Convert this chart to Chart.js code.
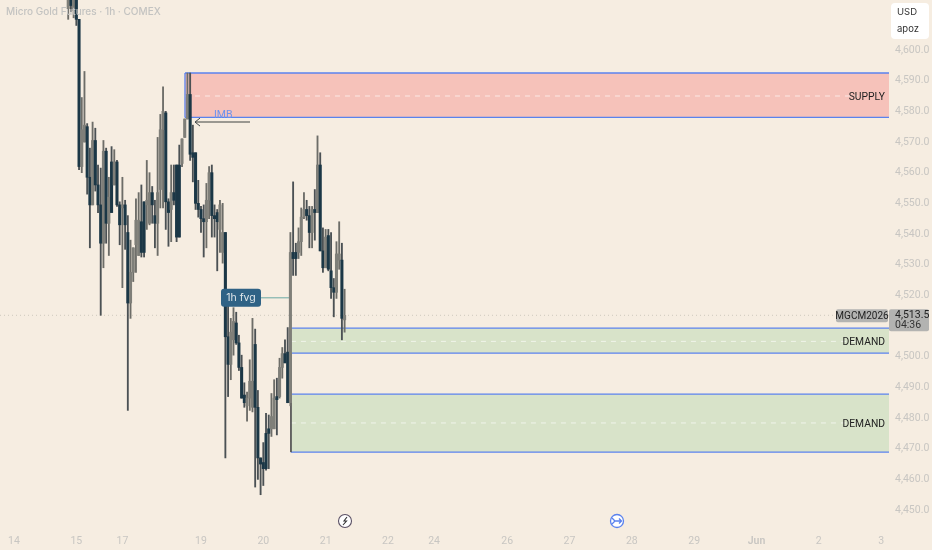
<!DOCTYPE html>
<html><head><meta charset="utf-8">
<style>html,body{margin:0;padding:0;background:#f6ede1;overflow:hidden}canvas{display:block}</style>
<script src="https://cdn.jsdelivr.net/npm/chart.js@4/dist/chart.umd.min.js"></script>
</head><body><canvas id="c" width="932" height="550"></canvas>
<script>
const firstBar = 20;
const highs = [4620,4618,4618,4618,4610,4584.5,4593,4576,4568,4576.5,4574.5,4562.5,4561.5,4570.5,4568,4558.5,4568.5,4567.5,4564,4550.5,4558.5,4551,4546,4538,4535.5,4551.5,4553.5,4556,4550.5,4564,4560,4555.5,4551,4571.5,4579,4588,4580,4551.5,4562.5,4562.5,4562.5,4569,4571,4577.5,4592.5,4592.5,4575.5,4566.5,4557.5,4549,4549.5,4556.5,4562,4562.5,4549.5,4548,4551,4550,4540.5,4517,4512.5,4516,4514.5,4507,4500.5,4491.5,4488.5,4499,4512.5,4509,4489,4467,4472,4481.5,4481,4488,4492.5,4493,4499.5,4503,4505.5,4509.5,4540.5,4557,4537,4542,4548.5,4553.5,4551,4549,4549,4554.5,4572,4566.5,4542,4541.5,4541.5,4540.5,4525.5,4537.5,4544,4537,4522];
const lows = [4610,4612.5,4610.5,4608,4561,4560,4570,4553,4535.5,4549.5,4554,4547,4513.5,4529,4537,4533,4547,4556,4549,4536.5,4522.5,4535,4482.5,4512.5,4524.5,4527.5,4533,4532.5,4532.5,4541.5,4543,4543.5,4535.5,4533,4548.5,4548.5,4541.5,4536,4537.5,4549.5,4537.5,4539,4562,4571.5,4577.5,4564,4557,4548,4545.5,4540.5,4532.5,4535.5,4545,4539,4539,4528,4534,4530.5,4467,4487,4492.5,4500.5,4504,4495.5,4486.5,4483.5,4479,4482.5,4482,4457.5,4460,4455,4458,4463,4463.5,4474,4476.5,4474.5,4486.5,4493,4498,4485,4484,4526.5,4526.5,4532,4533,4545,4544.5,4535.5,4535.5,4538,4547,4534.5,4527.5,4529,4528,4519,4513,4519,4528.5,4505.5,4508];
const opens = [4613.5,4618,4613,4616.5,4610,4562,4570,4575,4558.5,4549.5,4570.5,4556,4549.5,4537,4567,4543.5,4563.5,4556,4563.5,4549.5,4548.5,4549.5,4540.5,4517.5,4527.5,4536.5,4533,4544,4550.5,4549.5,4543.5,4553.5,4546,4543.5,4554.5,4574,4579.5,4550.5,4548,4553.5,4562.5,4562.5,4563,4571.5,4577.5,4585.5,4566.5,4566.5,4550,4548,4545,4544,4551,4560,4546,4547,4541.5,4534,4540.5,4506.5,4497.5,4505.5,4511,4504.5,4496.5,4487.5,4484,4486.5,4483.5,4504,4483.5,4467,4465.5,4475,4476.5,4476.5,4476.5,4487,4487,4496.5,4501,4501.5,4485,4534,4534,4534,4537.5,4545.5,4548,4546,4540.5,4548,4547,4562.5,4534.5,4529,4539.5,4528,4522.5,4521,4531.5,4531.5,4512];
const closes = [4618,4614.5,4616.5,4610,4562,4574,4575.5,4558.5,4549.5,4570.5,4556,4549.5,4537,4567,4543.5,4552,4547,4563.5,4549.5,4543,4549.5,4543,4517.5,4527.5,4535.5,4544.5,4544.5,4534,4534,4551,4553.5,4549.5,4543.5,4553.5,4574,4580,4550.5,4547,4553.5,4551,4539,4539,4571,4577.5,4585.5,4566,4565,4550,4548,4545,4544,4551,4560,4546,4545,4544,4549.5,4540.5,4506.5,4497.5,4508,4511.5,4504.5,4496.5,4486.5,4485,4486.5,4492,4492,4483.5,4467,4465,4463.5,4463.5,4475,4480.5,4486.5,4486,4496.5,4501,4498,4485,4534,4532,4532,4537.5,4545.5,4548,4546,4540.5,4548,4547,4562.5,4534.5,4529,4539,4528.5,4522.5,4521,4533.5,4533.5,4512.5,4513.5];

const priceTicks = [4450,4460,4470,4480,4490,4500,4510,4520,4530,4540,4550,4560,4570,4580,4590,4600];
const timeTickBars = [0,23,40,69,92,115,138,155,182,205,228,251,274,297,320];
const timeTickLabels = ['14','15','17','19','20','21','22','24','26','27','28','29','Jun','2','3'];

const xMin = -5.17, xMax = 322.9, yMin = 4443.5, yMax = 4616.3;
const lastPrice = 4513.5;
const supplyZone = {start: 63.1, top: 4592.5, bottom: 4578, mid: 4585};
const demandZoneA = {start: 102.2, top: 4509.3, bottom: 4501.2, mid: 4505};
const demandZoneB = {start: 102.2, top: 4487.8, bottom: 4468.9, mid: 4478.4};
const imbArrow = {from: 87.1, to: 66.8, price: 4576.5};
const fvgLine = {from: 91, to: 102.2, price: 4519.2};

const DARK='#1b3746', GREY='#7f7f79', WICK_D='#4b5154', WICK_U='#6d6d68', BLUE='#5a82ee';
const up = i => closes[i] >= opens[i];
const barX = i => firstBar + i;

const seg = (x0,x1,y0,y1=y0)=>[{x:x0,y:y0},{x:x1,y:y1}];
function lineDs(data, color, extra={}) {
  return Object.assign({type:'line',data,borderColor:color,borderWidth:1,pointRadius:0,fill:false,order:20,tension:0,clip:true}, extra);
}
function zoneDs(z, fill) {
  return [
    lineDs(seg(z.start,xMax,z.top), BLUE, {fill:'+1',backgroundColor:fill,order:30,borderWidth:1.3}),
    lineDs(seg(z.start,xMax,z.bottom), BLUE, {order:29,borderWidth:1.3}),
    lineDs(seg(z.start,xMax-11.5,z.mid), 'rgba(255,255,255,0.62)', {borderDash:[5,5],order:28})
  ];
}

const annot = {
  id:'annot',
  afterDatasetsDraw(ch){
    const {ctx,scales:{x,y}} = ch;
    const tx=(s,px,py,o={})=>{ctx.font=o.font||'10.3px Roboto';ctx.fillStyle=o.color||'#222';ctx.textAlign=o.align||'left';ctx.textBaseline='middle';ctx.fillText(s,px,py);};
    // zone labels
    tx('SUPPLY',885,y.getPixelForValue(supplyZone.mid)+1,{align:'right'});
    tx('DEMAND',885,y.getPixelForValue(demandZoneA.mid)+1,{align:'right'});
    tx('DEMAND',885,y.getPixelForValue(demandZoneB.mid)+1,{align:'right'});
    // arrow head
    const ax=x.getPixelForValue(imbArrow.to), ay=y.getPixelForValue(imbArrow.price);
    ctx.strokeStyle='#3f4547';ctx.lineWidth=1;ctx.beginPath();ctx.moveTo(ax+5,ay-4);ctx.lineTo(ax,ay);ctx.lineTo(ax+5,ay+4);ctx.stroke();
    tx('IMB',214,y.getPixelForValue(imbArrow.price)-7,{color:'#6d93ee',font:'10.5px Roboto'});
    // fvg label
    const fy=y.getPixelForValue(fvgLine.price);
    ctx.fillStyle='#2f6285';ctx.beginPath();ctx.roundRect(221,fy-9,40,18,3);ctx.fill();
    tx('1h fvg',241,fy+.5,{color:'#dfe6ea',align:'center',font:'10.5px Inter'});
    // title
    tx('Micro Gold Futures · 1h · COMEX',6,12,{color:'#c3c3c1',font:'500 10px Inter'});
    // currency box
    ctx.fillStyle='#ffffff';ctx.beginPath();ctx.roundRect(891,3,38,36,4);ctx.fill();
    tx('USD',897,12,{color:'#333',font:'9.5px Inter'});
    tx('apoz',897,29.5,{color:'#333',font:'9.5px Inter'});
    // price tags
    const py=y.getPixelForValue(lastPrice);
    ctx.fillStyle='#b3b3b1';ctx.beginPath();ctx.roundRect(836,py-6,52,13,2);ctx.fill();
    tx('MGCM2026',862,py+.7,{align:'center',color:'#222',font:'10px Roboto'});
    ctx.fillStyle='#b3b3b1';ctx.beginPath();ctx.roundRect(889,py-6,40,22,2);ctx.fill();
    tx('4,513.5',895,py+.5,{color:'#222',font:'10.5px Roboto'});
    tx('04:36',895,py+10.5,{color:'#333',font:'10.5px Roboto'});
    // event icons
    ctx.lineWidth=1.1;
    ctx.strokeStyle='#5b5165';ctx.fillStyle='#fff';ctx.beginPath();ctx.arc(345,521,6.5,0,7);ctx.fill();ctx.stroke();
    ctx.strokeStyle='#333';ctx.beginPath();ctx.moveTo(347,517);ctx.lineTo(344,521);ctx.lineTo(346.5,521);ctx.lineTo(343,525);ctx.stroke();
    ctx.strokeStyle=BLUE;ctx.fillStyle='#fff';ctx.lineWidth=1.3;ctx.beginPath();ctx.arc(617,521,6.5,0,7);ctx.fill();ctx.stroke();
    ctx.beginPath();ctx.moveTo(612,518);ctx.lineTo(615,521);ctx.lineTo(621,521);ctx.moveTo(612,524);ctx.lineTo(615,521);ctx.moveTo(619,518.5);ctx.lineTo(621.5,521);ctx.lineTo(619,523.5);ctx.stroke();
  }
};

new Chart(document.getElementById('c'),{
  type:'bar',
  data:{datasets:[
    {label:'bodies',data:opens.map((o,i)=>({x:barX(i),y:[Math.min(o,closes[i]),Math.max(o,closes[i])]})),
     backgroundColor:opens.map((o,i)=>up(i)?GREY:DARK),barThickness:2.4,grouped:false,order:1},
    {label:'wicks',data:highs.map((h,i)=>({x:barX(i),y:[lows[i],h]})),
     backgroundColor:highs.map((h,i)=>up(i)?WICK_U:WICK_D),barThickness:1.2,grouped:false,order:2},
    ...zoneDs(supplyZone,'#f6c2ba'),
    lineDs(seg(supplyZone.start,supplyZone.start,supplyZone.top,supplyZone.bottom),BLUE,{order:27,borderWidth:1.3}),
    ...zoneDs(demandZoneA,'#d8e3c9'),
    ...zoneDs(demandZoneB,'#d8e3c9'),
    lineDs(seg(demandZoneB.start,demandZoneB.start,demandZoneA.bottom,demandZoneB.bottom),'#555',{order:27}),
    lineDs(seg(xMin,xMax,lastPrice),'#cfc8bd',{borderDash:[1,3],order:31}),
    lineDs(seg(imbArrow.from,imbArrow.to,imbArrow.price),'#7b7b76',{order:5,borderWidth:1.4}),
    lineDs(seg(fvgLine.from,fvgLine.to,fvgLine.price),'#69aaa4',{order:5})
  ]},
  options:{
    responsive:false,animation:false,devicePixelRatio:1,
    layout:{padding:0},
    plugins:{legend:{display:false},tooltip:{enabled:false},title:{display:false}},
    scales:{
      x:{type:'linear',offset:false,min:xMin,max:xMax,
        grid:{display:false,drawTicks:false},border:{display:false},
        afterBuildTicks(s){s.ticks=timeTickBars.map(v=>({value:v}));},
        afterFit(s){s.height=20;s.paddingLeft=0;s.paddingRight=0;},
        ticks:{autoSkip:false,maxRotation:0,padding:5,color:'#c8c6c2',
          font:c=>({family:'Roboto',size:10.5,weight:timeTickLabels[c.index]==='Jun'?'600':'400'}),
          callback:(v,i)=>timeTickLabels[i]}},
      y:{position:'right',min:yMin,max:yMax,
        grid:{display:false,drawTicks:false},border:{display:false},
        afterBuildTicks(s){s.ticks=priceTicks.map(v=>({value:v}));},
        afterFit(s){s.width=43;s.paddingTop=0;s.paddingBottom=0;},
        ticks:{autoSkip:false,padding:6,color:'#c8c6c2',font:{family:'Roboto',size:10.5},
          callback:v=>v.toLocaleString('en-US',{minimumFractionDigits:1,maximumFractionDigits:1})}}
    }
  },
  plugins:[annot]
});
</script></body></html>
